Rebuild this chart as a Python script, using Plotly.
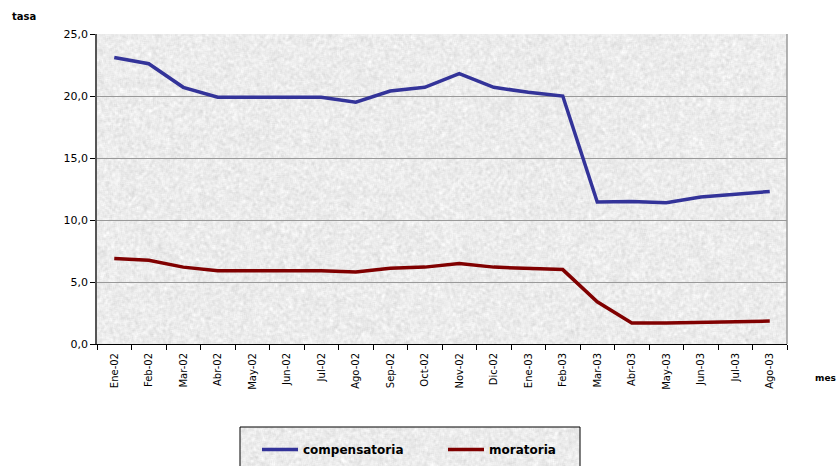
import base64
import struct
import zlib

import numpy as np
import plotly.graph_objects as go

# Monthly rates (tasa) for each series
meses = ["Ene-02", "Feb-02", "Mar-02", "Abr-02", "May-02", "Jun-02", "Jul-02",
         "Ago-02", "Sep-02", "Oct-02", "Nov-02", "Dic-02", "Ene-03", "Feb-03",
         "Mar-03", "Abr-03", "May-03", "Jun-03", "Jul-03", "Ago-03"]
compensatoria = [23.1, 22.6, 20.7, 19.9, 19.9, 19.9, 19.9, 19.5, 20.4, 20.7,
                 21.8, 20.7, 20.3, 20.0, 11.45, 11.5, 11.4, 11.85, 12.05, 12.3]
moratoria = [6.9, 6.75, 6.2, 5.9, 5.9, 5.9, 5.9, 5.8, 6.1, 6.2,
             6.5, 6.2, 6.1, 6.0, 3.4, 1.7, 1.7, 1.75, 1.8, 1.85]
y_ticks = [0, 5, 10, 15, 20, 25]


def gray_texture_png(w, h, seed=3):
    """Build a speckled light-gray PNG used as a fill texture."""
    rng = np.random.default_rng(seed)
    base = rng.normal(0, 1, (h, w))
    # soften the speckle a little
    k = np.ones(3) / 3
    base = np.apply_along_axis(lambda r: np.convolve(r, k, mode="same"), 1, base)
    base = np.apply_along_axis(lambda c: np.convolve(c, k, mode="same"), 0, base)
    img = np.clip(236 + base * 15, 195, 253).astype(np.uint8)
    raw = b"".join(b"\x00" + img[r].tobytes() for r in range(h))

    def chunk(tag, data):
        c = struct.pack(">I", len(data)) + tag + data
        return c + struct.pack(">I", zlib.crc32(tag + data) & 0xFFFFFFFF)

    png = b"\x89PNG\r\n\x1a\n"
    png += chunk(b"IHDR", struct.pack(">IIBBBBB", w, h, 8, 0, 0, 0, 0))
    png += chunk(b"IDAT", zlib.compress(raw, 9))
    png += chunk(b"IEND", b"")
    return "data:image/png;base64," + base64.b64encode(png).decode()


W, H = 839, 466
ML, MR, MT, MB = 97, 52, 34, 122
PW, PH = W - ML - MR, H - MT - MB


def px_x(x):
    return (x - ML) / PW


def px_y(y):
    return (H - MB - y) / PH


FONT = "DejaVu Sans"

fig = go.Figure()
fig.add_trace(go.Scatter(x=meses, y=compensatoria, mode="lines", name="compensatoria",
                         line=dict(color="#333399", width=3.5)))
fig.add_trace(go.Scatter(x=meses, y=moratoria, mode="lines", name="moratoria",
                         line=dict(color="#800000", width=3.5)))

# legend box (textured, black border) running off the bottom edge
lx0, lx1, ly0, ly1 = 240, 580, 427, 472
fig.update_layout(
    width=W, height=H,
    margin=dict(l=ML, r=MR, t=MT, b=MB, autoexpand=False),
    paper_bgcolor="white",
    plot_bgcolor="rgba(0,0,0,0)",
    separators=",.",
    font=dict(family=FONT, size=10, color="black"),
    showlegend=True,
    legend=dict(orientation="h", x=px_x(257), y=px_y(435), xanchor="left", yanchor="top",
                bgcolor="rgba(0,0,0,0)", borderwidth=0,
                font=dict(family=FONT, size=12, color="black", weight="bold"),
                entrywidth=135, itemwidth=36),
    images=[
        dict(source=gray_texture_png(PW, PH), xref="paper", yref="paper", x=0, y=1,
             sizex=1, sizey=1, sizing="stretch", layer="below"),
        dict(source=gray_texture_png(lx1 - lx0, ly1 - ly0, seed=7), xref="paper",
             yref="paper", x=px_x(lx0), y=px_y(ly0), sizex=px_x(lx1) - px_x(lx0),
             sizey=px_y(ly0) - px_y(ly1), sizing="stretch", layer="below"),
    ],
)

fig.add_shape(type="rect", xref="paper", yref="paper", x0=px_x(lx0), x1=px_x(lx1),
              y0=px_y(ly1), y1=px_y(ly0), line=dict(color="black", width=1),
              layer="above")

fig.update_xaxes(
    type="category", tickson="boundaries", ticks="outside", ticklen=5,
    tickcolor="black", tickangle=-90, showgrid=False,
    showline=True, linecolor="black", linewidth=1,
    tickfont=dict(family=FONT, size=10), automargin=False, ticklabelstandoff=4,
    range=[-0.5, len(meses) - 0.5],
)
fig.update_yaxes(
    range=[0, 25], tickvals=y_ticks, tickformat=".1f", ticks="outside",
    ticklen=5, tickcolor="black", showgrid=True, gridcolor="#999999", gridwidth=1,
    showline=True, linecolor="#555555", linewidth=1.5, zeroline=False,
    tickfont=dict(family=FONT, size=11), automargin=False,
)

# right-hand border of the plot area
fig.add_shape(type="line", xref="paper", yref="paper", x0=1, x1=1, y0=0, y1=1,
              line=dict(color="#999999", width=1.5))

fig.add_annotation(text="<b>tasa</b>", xref="paper", yref="paper",
                   x=px_x(10), y=px_y(17), xanchor="left", yanchor="middle",
                   showarrow=False, font=dict(family=FONT, size=10))
fig.add_annotation(text="<b>mes</b>", xref="paper", yref="paper",
                   x=px_x(838), y=px_y(378), xanchor="right", yanchor="middle",
                   showarrow=False, font=dict(family=FONT, size=9))

fig.write_html("out.html")
